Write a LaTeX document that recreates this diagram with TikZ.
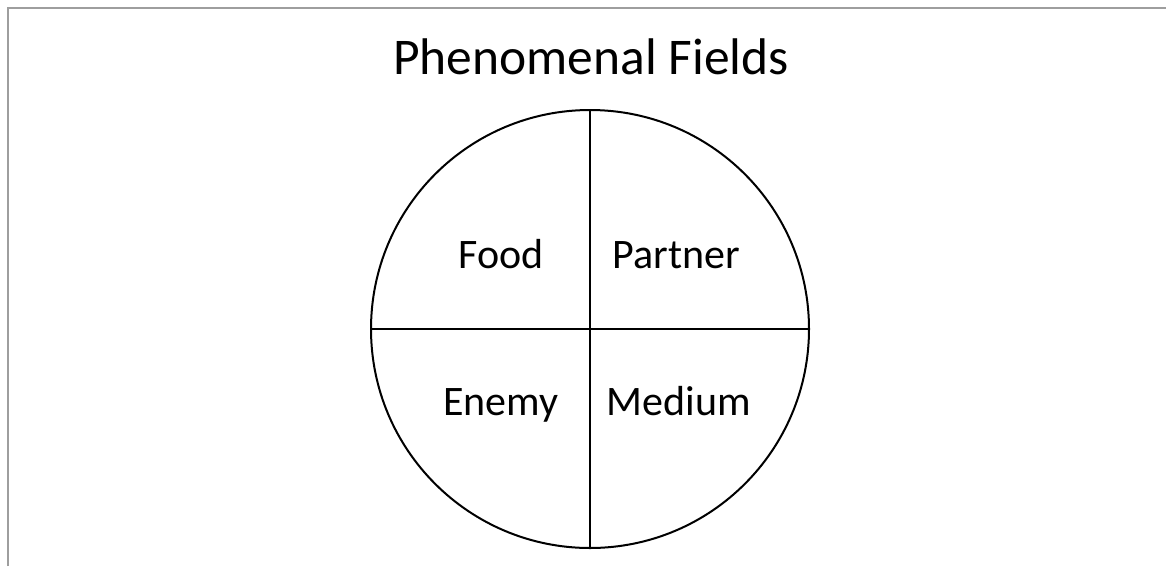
\documentclass[tikz,border=0pt]{standalone}
\usepackage{fontspec}
\setmainfont{Carlito}
\tikzset{
  quarter/.style={font=\fontsize{42}{50}\selectfont, anchor=base, inner sep=0pt},
  heading/.style={font=\fontsize{51.5}{60}\selectfont, anchor=base, inner sep=0pt},
  frameline/.style={draw=black!38, line width=2.5pt},
  wheel/.style={draw=black, line width=2pt}
}
\begin{document}
\begin{tikzpicture}[x=1pt,y=-1pt]
  \useasboundingbox (0,0) rectangle (1166,566);
  \draw[frameline] (8,566) -- (8,8) -- (1166,8);
  \node[heading] (title) at (591,74) {Phenomenal Fields};
  \coordinate (c) at (590,329);
  \draw[wheel] (c) circle (219);
  \coordinate (top) at (590,110);
  \coordinate (bottom) at (590,548);
  \coordinate (left) at (371,329);
  \coordinate (right) at (809,329);
  \draw[wheel] (top) -- (bottom);
  \draw[wheel] (left) -- (right);
  \node[quarter] (food) at (501,268) {Food};
  \node[quarter] (partner) at (676,268) {Partner};
  \node[quarter] (enemy) at (501,415) {Enemy};
  \node[quarter] (medium) at (679,415) {Medium};
\end{tikzpicture}
\end{document}
